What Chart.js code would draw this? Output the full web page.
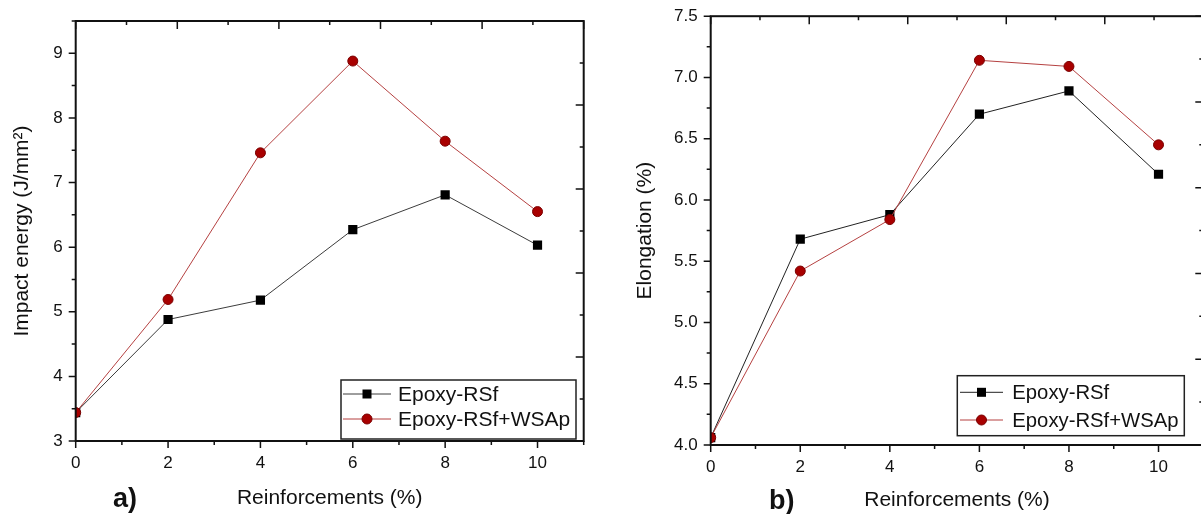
<!DOCTYPE html>
<html>
<head>
<meta charset="utf-8">
<script src="https://cdn.jsdelivr.net/npm/chart.js@4.4.1/dist/chart.umd.min.js"></script>
<style>
html, body { margin: 0; padding: 0; background: #fff; overflow: hidden; }
#wrap { position: relative; width: 1201px; height: 514px; overflow: hidden; }
#impact-chart { position: absolute; left: 0; top: 0; }
#elongation-chart { position: absolute; left: 600px; top: 0; }
</style>
</head>
<body>
<div id="wrap">
  <canvas id="impact-chart" width="600" height="514"></canvas>
  <canvas id="elongation-chart" width="620" height="514"></canvas>
</div>
<script>
// reinforcement content (%) on the x axis of both panels
const reinforcements = [0, 2, 4, 6, 8, 10];

// panel a) impact energy (J/mm2)
const impactRSf = [3.44, 4.88, 5.18, 6.27, 6.81, 6.03];
const impactRSfWSAp = [3.44, 5.19, 7.46, 8.88, 7.64, 6.55];

// panel b) elongation (%)
const elongRSf = [4.06, 5.68, 5.88, 6.70, 6.89, 6.21];
const elongRSfWSAp = [4.06, 5.42, 5.84, 7.14, 7.09, 6.45];

const seriesNames = ['Epoxy-RSf', 'Epoxy-RSf+WSAp'];

const FONT = "'Liberation Sans', Arial, sans-serif";
Chart.defaults.font.family = FONT;
Chart.defaults.color = '#111';

function toPoints(values) {
    return reinforcements.map((x, i) => ({x: x, y: values[i]}));
}

// frame with outward ticks on left/bottom and inward mirror ticks on top/right
const frameTicks = {
    id: 'frameTicks',
    afterDatasetsDraw(chart, args, opts) {
        const {ctx, chartArea: a, scales: {x, y}} = chart;
        ctx.save();
        ctx.strokeStyle = '#111';
        ctx.lineWidth = 1.5;
        ctx.beginPath();
        x.ticks.forEach(t => {
            const px = x.getPixelForValue(t.value);
            const len = t.value % 2 === 0 ? 7 : 4;
            ctx.moveTo(px, a.bottom);
            ctx.lineTo(px, a.bottom + len);
        });
        y.ticks.forEach(t => {
            const py = y.getPixelForValue(t.value);
            const len = opts.majorY(t.value) ? 7 : 4;
            ctx.moveTo(a.left, py);
            ctx.lineTo(a.left - len, py);
        });
        for (let i = 0; i <= 10; i++) {
            const px = x.getPixelForValue(x.min + (x.max - x.min) * i / 10);
            const py = y.getPixelForValue(y.min + (y.max - y.min) * i / 10);
            const len = i % 2 === 0 ? 8 : 4;
            ctx.moveTo(px, a.top);
            ctx.lineTo(px, a.top + len);
            ctx.moveTo(a.right, py);
            ctx.lineTo(a.right - len, py);
        }
        ctx.stroke();
        ctx.lineWidth = 2;
        ctx.strokeRect(a.left, a.top, a.right - a.left, a.bottom - a.top);
        ctx.restore();
    }
};

// boxed legend in the lower right corner of the plot
const boxLegend = {
    id: 'boxLegend',
    afterDraw(chart, args, opts) {
        const {ctx, chartArea: a} = chart;
        const bx = a.right - opts.right - opts.width;
        const by = a.bottom - opts.bottom - opts.height;
        ctx.save();
        ctx.fillStyle = '#fff';
        ctx.fillRect(bx, by, opts.width, opts.height);
        ctx.strokeStyle = '#222';
        ctx.lineWidth = 1.5;
        ctx.strokeRect(bx, by, opts.width, opts.height);
        chart.data.datasets.forEach((ds, i) => {
            const cy = by + opts.rowTop + i * opts.rowGap;
            const x0 = bx + opts.lineStart;
            const x1 = x0 + opts.lineLen;
            const mx = (x0 + x1) / 2;
            ctx.strokeStyle = ds.borderColor;
            ctx.lineWidth = 1;
            ctx.beginPath();
            ctx.moveTo(x0, cy);
            ctx.lineTo(x1, cy);
            ctx.stroke();
            ctx.fillStyle = ds.pointBackgroundColor;
            ctx.strokeStyle = ds.pointBorderColor;
            if (ds.pointStyle === 'rect') {
                ctx.fillRect(mx - 4.5, cy - 4.5, 9, 9);
            } else {
                ctx.beginPath();
                ctx.arc(mx, cy, ds.pointRadius, 0, Math.PI * 2);
                ctx.fill();
                ctx.stroke();
            }
            ctx.fillStyle = '#111';
            ctx.font = opts.fontSize + 'px ' + FONT;
            ctx.textAlign = 'left';
            ctx.textBaseline = 'middle';
            ctx.fillText(ds.label, bx + opts.textStart, cy + 1);
        });
        ctx.restore();
    }
};

// "a)" / "b)" panel tag
const panelTag = {
    id: 'panelTag',
    afterDraw(chart, args, opts) {
        const ctx = chart.ctx;
        ctx.save();
        ctx.fillStyle = '#111';
        ctx.font = 'bold 27px ' + FONT;
        ctx.textAlign = 'left';
        ctx.textBaseline = 'alphabetic';
        ctx.fillText(opts.text, opts.x, opts.y);
        ctx.restore();
    }
};

function makeChart(canvas, cfg) {
    return new Chart(canvas.getContext('2d'), {
        type: 'line',
        data: {
            datasets: [
                {
                    label: seriesNames[0],
                    data: toPoints(cfg.black),
                    borderColor: cfg.blackLine,
                    borderWidth: 1,
                    pointStyle: 'rect',
                    pointRadius: 6.5,
                    pointBackgroundColor: '#000',
                    pointBorderColor: '#000',
                    pointBorderWidth: 0,
                    clip: 0,
                    order: 1
                },
                {
                    label: seriesNames[1],
                    data: toPoints(cfg.red),
                    borderColor: '#b54141',
                    borderWidth: 1,
                    pointStyle: 'circle',
                    pointRadius: 5,
                    pointBackgroundColor: '#a80000',
                    pointBorderColor: '#7a0000',
                    pointBorderWidth: 1,
                    clip: 0,
                    order: 0
                }
            ]
        },
        options: {
            responsive: false,
            animation: false,
            events: [],
            layout: {
                autoPadding: false,
                padding: {left: 0, top: cfg.top, right: cfg.right, bottom: 0}
            },
            scales: {
                x: {
                    type: 'linear',
                    min: 0,
                    max: 11,
                    grid: {display: false, drawTicks: true, tickLength: 7},
                    border: {display: false},
                    ticks: {
                        stepSize: 1,
                        autoSkip: false,
                        maxRotation: 0,
                        padding: 5,
                        color: '#111',
                        font: {size: 17},
                        callback: v => (v % 2 === 0 && v <= 10) ? String(v) : ''
                    },
                    title: {
                        display: true,
                        text: 'Reinforcements (%)',
                        color: '#111',
                        font: {size: 21},
                        padding: {top: 0, bottom: cfg.xTitlePad}
                    },
                    afterFit: s => { s.height = cfg.xHeight; }
                },
                y: {
                    type: 'linear',
                    min: cfg.yMin,
                    max: cfg.yMax,
                    grid: {display: false, drawTicks: true, tickLength: 7},
                    border: {display: false},
                    ticks: {
                        stepSize: cfg.yStep,
                        autoSkip: false,
                        padding: 6,
                        color: '#111',
                        font: {size: 17},
                        callback: cfg.yLabel
                    },
                    title: {
                        display: true,
                        text: cfg.yTitle,
                        color: '#111',
                        font: {size: 21},
                        padding: {top: cfg.yTitlePad, bottom: 0}
                    },
                    afterFit: s => { s.width = cfg.yWidth; }
                }
            },
            plugins: {
                legend: {display: false},
                tooltip: {enabled: false},
                frameTicks: {majorY: cfg.majorY},
                boxLegend: cfg.legend,
                panelTag: cfg.tag
            }
        },
        plugins: [frameTicks, boxLegend, panelTag]
    });
}

makeChart(document.querySelector('#impact-chart'), {
    black: impactRSf,
    red: impactRSfWSAp,
    blackLine: '#3c3c3c',
    yMin: 3, yMax: 9.5, yStep: 0.5,
    yLabel: v => Number.isInteger(v) ? String(v) : '',
    majorY: v => Number.isInteger(v),
    yTitle: 'Impact energy (J/mm\u00B2)',
    top: 21, right: 16.3,
    xHeight: 73, yWidth: 75.7,
    xTitlePad: 3, yTitlePad: 10,
    legend: {right: 7.7, bottom: 2, width: 235, height: 59, rowTop: 14, rowGap: 25,
             lineStart: 2, lineLen: 48, textStart: 57, fontSize: 21},
    tag: {text: 'a)', x: 113, y: 507}
});

makeChart(document.querySelector('#elongation-chart'), {
    black: elongRSf,
    red: elongRSfWSAp,
    blackLine: '#222',
    yMin: 4, yMax: 7.5, yStep: 0.25,
    yLabel: v => (v * 2) % 1 === 0 ? v.toFixed(1) : '',
    majorY: v => (v * 2) % 1 === 0,
    yTitle: 'Elongation (%)',
    top: 14, right: 16.7,
    xHeight: 69, yWidth: 110.7,
    xTitlePad: 1, yTitlePad: 33,
    legend: {right: 19, bottom: 9.3, width: 227, height: 60, rowTop: 16.6, rowGap: 27.7,
             lineStart: 2.7, lineLen: 43, textStart: 55, fontSize: 20.3},
    tag: {text: 'b)', x: 169, y: 509}
});
</script>
</body>
</html>
